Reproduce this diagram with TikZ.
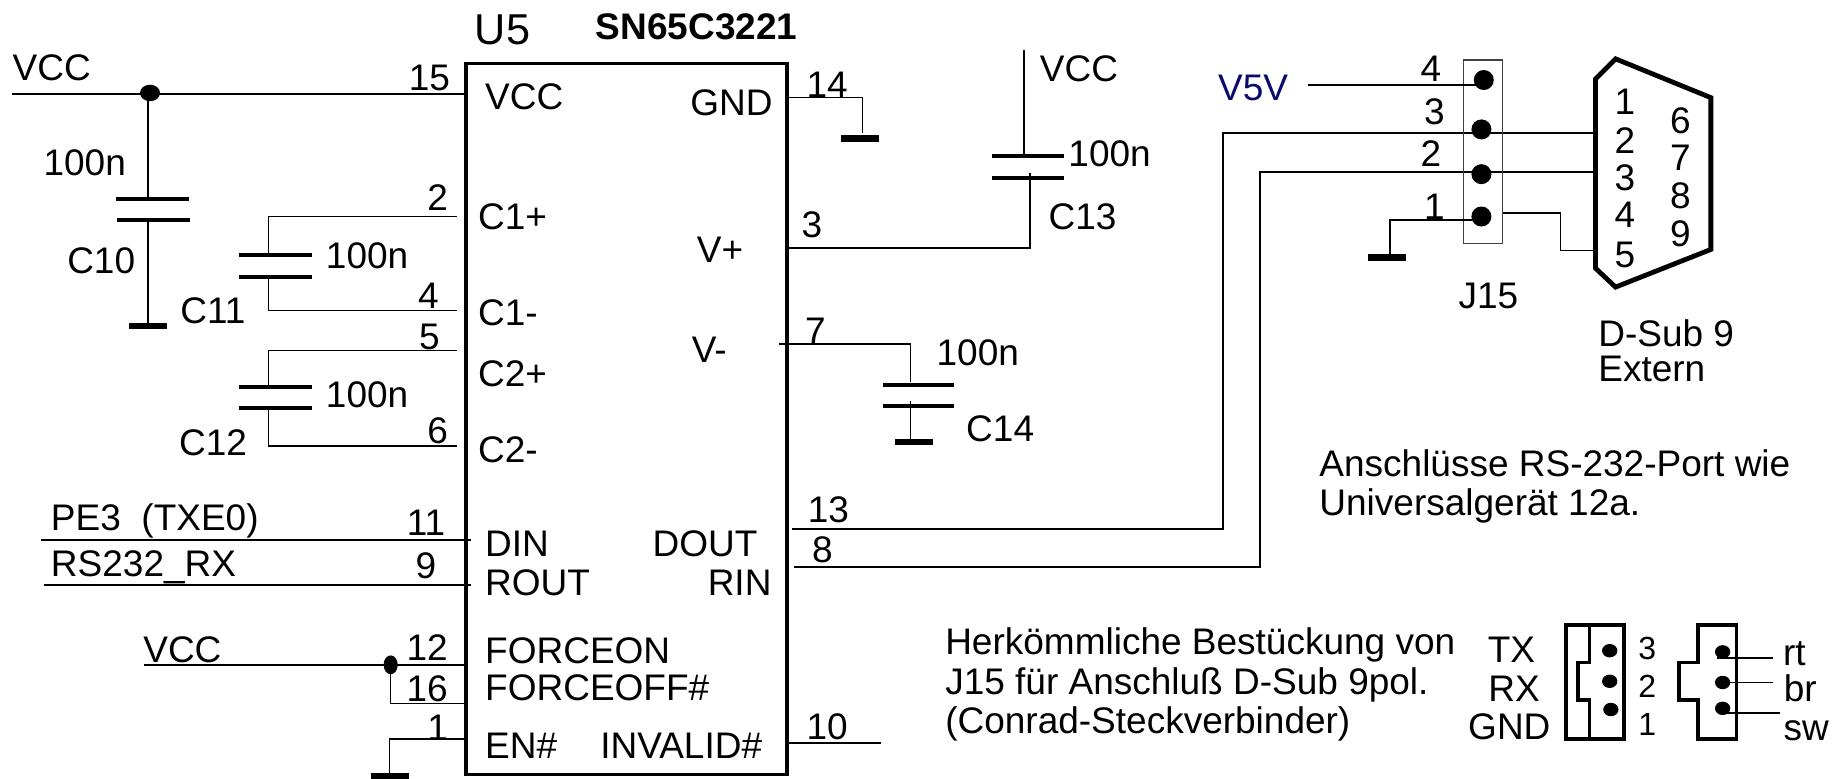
\documentclass[tikz,border=0pt]{standalone}
\usepackage{fontspec}
\setmainfont{Liberation Sans}
\usetikzlibrary{positioning}
\definecolor{netblue}{RGB}{10,10,110}
\tikzset{
	lbl/.style={inner sep=0pt, text height=13.2pt, text depth=0pt, font=\fontsize{18.5}{20}\selectfont},
	biglbl/.style={lbl, text height=15.5pt, font=\fontsize{21.6}{24}\selectfont},
	smalllbl/.style={lbl, text height=11.5pt, font=\fontsize{16}{18}\selectfont},
	wire/.style={line width=.95pt},
	thinwire/.style={line width=.75pt},
	thinbox/.style={line width=.7pt, draw=black!75},
	heavy/.style={line width=1.7pt, line join=miter},
	plate/.style={line width=2pt},
	gndbar/.style={line width=3.3pt},
	dot/.style={fill=black, draw=none}
}
\begin{document}
\begin{tikzpicture}[x=.58835pt, y=-.58835pt]
	\useasboundingbox (0,0) rectangle (1568,662);
	% U5
	\coordinate (ua) at (396,54); \coordinate (ub) at (669,658);
	\draw[heavy] (ua) rectangle (ub);
	\node[biglbl] (u5) at (427,25) {U5}; \node[lbl] (chip) at (592,22) {\textbf{SN65C3221}};
	\node[lbl, anchor=west] (pvcc) at (412,82) {VCC}; \node[lbl, anchor=east] (pgnd) at (657,87) {GND};
	\node[lbl, anchor=west] (pc1a) at (406,184) {C1+}; \node[lbl, anchor=west] (pc1b) at (406,265) {C1-};
	\node[lbl, anchor=west] (pc2a) at (406,317) {C2+}; \node[lbl, anchor=west] (pc2b) at (406,382) {C2-};
	\node[lbl, anchor=east] (pvp) at (632,212) {V+}; \node[lbl, anchor=east] (pvm) at (618,297) {V-};
	\node[lbl, anchor=west] (pdin) at (412,462) {DIN}; \node[lbl, anchor=west] (prout) at (412,495) {ROUT};
	\node[lbl, anchor=east] (pdout) at (644,462) {DOUT}; \node[lbl, anchor=east] (prin) at (656,495) {RIN};
	\node[lbl, anchor=west] (pfon) at (412,553) {FORCEON}; \node[lbl, anchor=west] (pfoff) at (412,584) {FORCEOFF\#};
	\node[lbl, anchor=west] (pen) at (412,633) {EN\#}; \node[lbl, anchor=east] (pinv) at (648,633) {INVALID\#};

	% supply, C10
	\coordinate (vcca) at (10,80); \coordinate (u15) at (396,80); \coordinate (c10j) at (127.5,79);
	\coordinate (c10a) at (125.5,169); \coordinate (c10b) at (125.5,187); \coordinate (g10) at (125.5,277);
	\draw[wire] (vcca) -- (u15); \draw[dot] (c10j) ellipse (8.5 and 7);
	\draw[wire] (125.5,79) -- (c10a); \draw[wire] (c10b) -- (g10);
	\draw[plate] (98.5,169) -- (160.5,169); \draw[plate] (99.5,187) -- (161.5,187); \draw[gndbar] (110,277) -- (142,277);
	\node[lbl] (lvcc1) at (44,57) {VCC}; \node[lbl] (n15) at (365,66) {15};
	\node[lbl] (v10) at (72,138) {100n}; \node[lbl] (c10) at (86,221) {C10};

	% C11, C12
	\coordinate (u2) at (388,184); \coordinate (u4) at (388,264); \coordinate (c11a) at (228,217); \coordinate (c11b) at (228,235);
	\draw[thinwire] (u2) -| (c11a); \draw[thinwire] (u4) -| (c11b);
	\draw[plate] (203,217) -- (265,217); \draw[plate] (203,235) -- (265,235);
	\node[lbl] (n2) at (372,168) {2}; \node[lbl] (n4) at (364,251) {4}; \node[lbl] (v11) at (312,217) {100n}; \node[lbl] (c11) at (181,264) {C11};
	\coordinate (u5p) at (388,298); \coordinate (u6) at (388,379); \coordinate (c12a) at (228,329); \coordinate (c12b) at (228,347);
	\draw[thinwire] (u5p) -| (c12a); \draw[thinwire] (u6) -| (c12b);
	\draw[plate] (203,329) -- (265,329); \draw[plate] (203,347) -- (265,347);
	\node[lbl] (n5) at (365,286) {5}; \node[lbl] (n6) at (372,366) {6}; \node[lbl] (v12) at (312,335) {100n}; \node[lbl] (c12) at (181,376) {C12};

	% left inputs
	\coordinate (da) at (35,459); \coordinate (db) at (400,459); \coordinate (ra) at (37,497); \coordinate (rb) at (400,497);
	\draw[wire] (da) -- (db); \draw[wire] (ra) -- (rb);
	\node[lbl, anchor=west] (pe3) at (43,440) {PE3\ \ (TXE0)}; \node[lbl, anchor=west] (rsrx) at (43,479) {RS232\_RX};
	\node[lbl] (n11) at (362,444) {11}; \node[lbl] (n9) at (362,480) {9};
	\coordinate (fa) at (122,565); \coordinate (fj) at (332,565); \coordinate (fb) at (396,565); \coordinate (fc) at (396,598);
	\draw[wire] (fa) -- (fb); \draw[thinwire] (fj) |- (fc); \draw[dot] (fj) ellipse (6 and 8);
	\node[lbl] (lvcc3) at (155,552) {VCC}; \node[lbl] (n12) at (363,550) {12}; \node[lbl] (n16) at (363,585) {16};
	\coordinate (ea) at (396,628); \coordinate (eg) at (331,660);
	\draw[thinwire] (ea) -| (eg); \draw[gndbar] (315,660) -- (348,660); \node[lbl] (n1) at (372,618) {1};

	% right side of U5
	\coordinate (u14) at (670,83); \coordinate (g14) at (733,113);
	\draw[thinwire] (u14) -| (g14); \draw[gndbar] (715,117.5) -- (747,117.5); \node[lbl] (n14) at (703,72) {14};
	\coordinate (vt) at (870,42.5); \coordinate (c13a) at (870,133); \coordinate (c13b) at (875,147); \coordinate (u3) at (669,211);
	\draw[wire] (vt) -- (c13a); \draw[wire] (u3) -| (c13b);
	\draw[plate] (843,133) -- (904,133); \draw[plate] (843,151) -- (904,151);
	\node[lbl] (lvcc2) at (917,58) {VCC}; \node[lbl] (v13) at (943,130) {100n}; \node[lbl] (c13) at (920,184) {C13}; \node[lbl] (n3) at (690,191) {3};
	\coordinate (u7) at (662,292.5); \coordinate (c14a) at (774,325); \coordinate (c14b) at (774,341); \coordinate (g14b) at (774,375);
	\draw[thinwire] (u7) -| (c14a); \draw[thinwire] (c14b) -- (g14b);
	\draw[plate] (750,327) -- (811,327); \draw[plate] (750,345) -- (811,345); \draw[gndbar] (761,375.5) -- (793,375.5);
	\node[lbl] (v14) at (831,299) {100n}; \node[lbl] (c14) at (850,364) {C14}; \node[lbl] (n7) at (693,280.5) {7};
	\coordinate (u10) at (670,631.5); \coordinate (w10) at (748.5,631.5);
	\draw[wire] (u10) -- (w10); \node[lbl] (n10) at (703,617) {10};
	\coordinate (u13) at (673,449.6); \coordinate (x13) at (1039,113); \coordinate (s2) at (1355,113);
	\coordinate (u8) at (675,482); \coordinate (x8) at (1071,146); \coordinate (s3) at (1355,146);
	\draw[wire] (u13) -| (x13) -- (s2); \draw[thinwire] (u8) -| (x8) -- (s3);
	\node[lbl] (n13) at (704,433) {13}; \node[lbl] (n8) at (699,467) {8};

	% J15
	\draw[thinbox] (1244,51) rectangle (1277,207);
	\coordinate (j4) at (1261,68); \coordinate (j3) at (1259,110); \coordinate (j2) at (1259,148); \coordinate (j1) at (1259,184);
	\foreach \j in {j4,j3,j2,j1} \draw[dot] (\j) circle (8.5);
	\coordinate (v5) at (1112,72); \coordinate (j4w) at (1261,72); \coordinate (j1w) at (1259,187); \coordinate (gj) at (1181,219);
	\coordinate (j5a) at (1277,181); \coordinate (s5) at (1355,213);
	\draw[wire] (v5) -- (j4w); \draw[wire] (j1w) -| (gj); \draw[gndbar] (1163,219) -- (1195,219);
	\draw[thinwire] (j5a) -| (1326,213) -- (s5);
	\node[lbl, text=netblue] (v5v) at (1065,74) {V5V};
	\node[lbl] (j4n) at (1216,58) {4}; \node[lbl] (j3n) at (1219,95) {3}; \node[lbl] (j2n) at (1216,130) {2}; \node[lbl] (j1n) at (1219,175) {1};
	\node[lbl] (j15) at (1265,251) {J15};

	% D-Sub
	\draw[heavy, line width=2.4pt] (1356,67) -- (1373,50) -- (1454,83) -- (1454,212) -- (1373,244) -- (1356,228) -- cycle;
	\foreach \n/\y in {1/86,2/119,3/151,4/182,5/216} \node[lbl] (sa\n) at (1381,\y) {\n};
	\foreach \n/\y in {6/102,7/134,8/166,9/198} \node[lbl] (sb\n) at (1428,\y) {\n};
	\node[lbl, anchor=west] (dsub) at (1358,283) {D-Sub 9}; \node[lbl, anchor=west] (ext) at (1358,313) {Extern};

	% notes
	\node[lbl, anchor=west] (na) at (1121,394) {Anschlüsse RS-232-Port wie}; \node[lbl, anchor=west] (nb) at (1121,427) {Universalgerät 12a.};
	\node[lbl, anchor=west] (ha) at (803,545) {Herkömmliche Bestückung von}; \node[lbl, anchor=west] (hb) at (803,579) {J15 für Anschluß D-Sub 9pol.};
	\node[lbl, anchor=west] (hc) at (803,612) {(Conrad-Steckverbinder)};

	% connector detail
	\node[lbl, anchor=east] (tx) at (1305,552) {TX}; \node[lbl, anchor=east] (rx) at (1309,585) {RX}; \node[lbl, anchor=east] (gnd) at (1318,617) {GND};
	\draw[heavy] (1331,531) rectangle (1380,628);
	\draw[heavy] (1351,531) -- (1351,563) -- (1341,563) -- (1341,595) -- (1351,595) -- (1351,628);
	\draw[dot] (1368,553) ellipse (6.5 and 5.7); \draw[dot] (1368,579) ellipse (6.5 and 5.7); \draw[dot] (1369,603) ellipse (6.5 and 5.7);
	\node[smalllbl] (k3) at (1400,551) {3}; \node[smalllbl] (k2) at (1400,583) {2}; \node[smalllbl] (k1) at (1400,615) {1};
	\draw[heavy] (1443,531) -- (1476,531) -- (1476,628) -- (1443,628) -- (1443,595) -- (1427,595) -- (1427,563) -- (1443,563) -- cycle;
	\coordinate (mr) at (1464,554); \coordinate (mb) at (1464,580); \coordinate (ms) at (1464,602);
	\draw[dot] (mr) ellipse (6.5 and 5.7); \draw[dot] (mb) ellipse (6.5 and 5.7); \draw[dot] (ms) ellipse (6.5 and 5.7);
	\coordinate (mra) at (1459,559); \coordinate (mrb) at (1507,559); \coordinate (mbb) at (1507,580); \coordinate (msa) at (1464,606); \coordinate (msb) at (1513,606);
	\draw[wire] (mra) -- (mrb); \draw[wire] (mb) -- (mbb); \draw[wire] (msa) -- (msb);
	\node[lbl] (rt) at (1525,554) {rt}; \node[lbl] (br) at (1530,585) {br}; \node[lbl] (sw) at (1535,618) {sw};
\end{tikzpicture}
\end{document}
